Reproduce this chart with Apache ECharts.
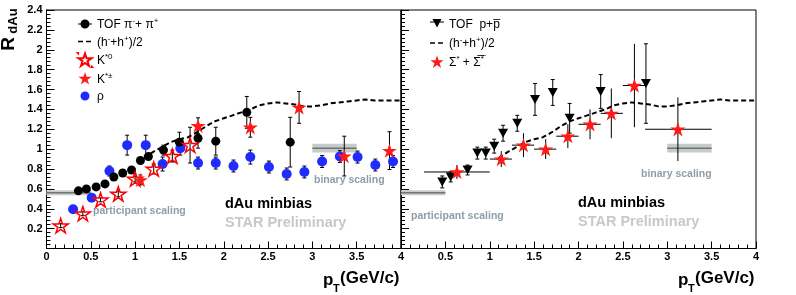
<!DOCTYPE html>
<html>
<head>
<meta charset="utf-8">
<script src="https://cdn.jsdelivr.net/npm/echarts@6/dist/echarts.min.js"></script>
<style>
html,body{margin:0;padding:0;background:#fff;}
#chart{width:796px;height:295px;}
</style>
</head>
<body>
<div id="chart"></div>
<script>
// ---------------- DATA ----------------
const xTicks = [0, 0.5, 1, 1.5, 2, 2.5, 3, 3.5, 4];
const yTicks = [0, 0.2, 0.4, 0.6, 0.8, 1, 1.2, 1.4, 1.6, 1.8, 2, 2.2, 2.4];

// Left panel: TOF pi- + pi+
const pionX   = [0.36, 0.45, 0.56, 0.66, 0.76, 0.86, 0.96, 1.06, 1.15, 1.32, 1.50, 1.71, 1.91, 2.26, 2.75];
const pionY   = [0.58, 0.60, 0.62, 0.65, 0.72, 0.76, 0.79, 0.885, 0.925, 0.99, 1.07, 1.11, 1.08, 1.37, 1.07];
const pionErr = [0.01, 0.01, 0.01, 0.01, 0.02, 0.02, 0.02, 0.03, 0.03, 0.05, 0.10, 0.10, 0.14, 0.16, 0.25];

// Left panel: rho
const rhoX   = [0.30, 0.51, 0.71, 0.91, 1.12, 1.31, 1.51, 1.71, 1.91, 2.11, 2.30, 2.51, 2.71, 2.91, 3.11, 3.31, 3.51, 3.71, 3.91];
const rhoY   = [0.395, 0.51, 0.78, 1.04, 1.04, 0.85, 1.01, 0.86, 0.86, 0.83, 0.92, 0.82, 0.75, 0.77, 0.875, 0.925, 0.92, 0.84, 0.875];
const rhoErr = [0.0, 0.0, 0.05, 0.10, 0.10, 0.07, 0.07, 0.06, 0.06, 0.06, 0.07, 0.06, 0.06, 0.06, 0.06, 0.06, 0.06, 0.06, 0.06];

// Left panel: K*0 (open stars)
const k0X   = [0.16, 0.41, 0.61, 0.81, 1.00, 1.21, 1.42, 1.62];
const k0Y   = [0.23, 0.35, 0.49, 0.55, 0.70, 0.80, 0.93, 1.04];
const k0Err = [0.02, 0.02, 0.02, 0.03, 0.03, 0.05, 0.06, 0.18];

// Left panel: K*+- (filled stars)
const kcX   = [1.06, 1.71, 2.30, 2.85, 3.36, 3.87];
const kcY   = [0.69, 1.235, 1.22, 1.42, 0.93, 0.985];
const kcErr = [0.05, 0.08, 0.10, 0.16, 0.20, 0.19];

// Right panel: TOF p + pbar
const protonX   = [0.465, 0.56, 0.75, 0.86, 0.955, 1.05, 1.15, 1.31, 1.51, 1.71, 1.90, 2.25, 2.76];
const protonY   = [0.67, 0.72, 0.79, 0.96, 0.96, 1.03, 1.16, 1.26, 1.50, 1.57, 1.31, 1.58, 1.66];
const protonErr = [0.06, 0.05, 0.05, 0.06, 0.06, 0.07, 0.08, 0.08, 0.16, 0.13, 0.15, 0.17, 0.40];

// Right panel: Sigma* + anti-Sigma*
const sigmaX   = [0.63, 1.13, 1.38, 1.63, 1.88, 2.13, 2.37, 2.63, 3.12];
const sigmaY   = [0.77, 0.90, 1.04, 1.00, 1.13, 1.25, 1.36, 1.64, 1.20];
const sigmaErr = [0.07, 0.08, 0.12, 0.10, 0.12, 0.15, 0.25, 0.42, 0.32];
const sigmaXLo = [0.26, 1.00, 1.25, 1.50, 1.75, 2.00, 2.25, 2.50, 2.75];
const sigmaXHi = [1.00, 1.25, 1.50, 1.75, 2.00, 2.25, 2.50, 2.75, 3.50];

// (h- + h+)/2 curve
const hX = [1.1, 1.2, 1.3, 1.4, 1.5, 1.6, 1.7, 1.8, 1.9, 2.0, 2.1, 2.2, 2.3, 2.4, 2.5, 2.6, 2.7, 2.8, 2.9, 3.0, 3.1, 3.2, 3.3, 3.4, 3.5, 3.6, 3.7, 3.8, 3.9, 4.0];
const hY = [0.91, 0.97, 1.02, 1.07, 1.10, 1.12, 1.17, 1.23, 1.28, 1.31, 1.34, 1.37, 1.40, 1.44, 1.46, 1.47, 1.46, 1.45, 1.43, 1.43, 1.44, 1.46, 1.47, 1.48, 1.49, 1.50, 1.49, 1.49, 1.49, 1.49];

// scaling bands: [xStart, xEnd, yCenter, halfHeight]
const participantBand = [0, 0.5, 0.56, 0.025];
const binaryBand      = [3, 3.5, 1.01, 0.045];

// ---------------- HELPERS ----------------
const FONT = '"Liberation Sans", Arial, Helvetica, sans-serif';
const STAR = 'path://M100,0 L122.45,69.1 L195.1,69.1 L136.3,111.8 L158.8,180.9 L100,138.2 L41.2,180.9 L63.7,111.8 L4.9,69.1 L77.55,69.1 Z';
const CORNERS = ' M0,0 L0.1,0 L0.1,0.1 Z M28,28 L27.9,28 L27.9,27.9 Z';
const ICON_PION = 'path://M0,13 L28,13 L28,15 L0,15 Z M23,14 A9,9 0 1 1 5,14 A9,9 0 1 1 23,14 Z' + CORNERS;
const ICON_PROTON = 'path://M0,9 L28,9 L28,11 L0,11 Z M5,4 L23,4 L14,21 Z' + CORNERS;
const ICON_DASH = 'path://M0,12.5 L10,12.5 L10,15.5 L0,15.5 Z M16,12.5 L26,12.5 L26,15.5 L16,15.5 Z' + CORNERS;
const ICON_STAR = 'path://M14,1 L17.1,10.5 L27.2,10.5 L19.1,16.4 L22.2,26 L14,20.1 L5.8,26 L8.9,16.4 L0.8,10.5 L10.9,10.5 Z' + CORNERS;
const ICON_CIRCLE = 'path://M23,14 A9,9 0 1 1 5,14 A9,9 0 1 1 23,14 Z' + CORNERS;

function zip(...arrs) { return arrs[0].map((_, i) => arrs.map(a => a[i])); }

function errRender(cap) {
  return function (params, api) {
    const x = api.value(0), y = api.value(1), e = api.value(2);
    const xl = api.value(3), xh = api.value(4);
    const c = api.coord([x, y]);
    const children = [];
    const st = { stroke: '#000', lineWidth: 1 };
    if (e > 0) {
      const t = api.coord([x, y + e]), b = api.coord([x, y - e]);
      children.push({ type: 'line', shape: { x1: c[0], y1: t[1], x2: c[0], y2: b[1] }, style: st });
      if (cap) {
        children.push({ type: 'line', shape: { x1: c[0] - 2, y1: t[1], x2: c[0] + 2, y2: t[1] }, style: st });
        children.push({ type: 'line', shape: { x1: c[0] - 2, y1: b[1], x2: c[0] + 2, y2: b[1] }, style: st });
      }
    }
    if (xh > xl) {
      const l = api.coord([xl, y]), r = api.coord([xh, y]);
      children.push({ type: 'line', shape: { x1: l[0], y1: c[1], x2: r[0], y2: c[1] }, style: st });
    }
    return { type: 'group', children };
  };
}

function bandRender(params, api) {
  const x0 = api.value(0), x1 = api.value(1), yc = api.value(2), h = api.value(3);
  const tl = api.coord([x0, yc + h]), br = api.coord([x1, yc - h]);
  const ml = api.coord([x0, yc]), mr = api.coord([x1, yc]);
  return {
    type: 'group',
    children: [
      { type: 'rect', shape: { x: tl[0], y: tl[1], width: br[0] - tl[0], height: br[1] - tl[1] }, style: { fill: '#c6cbcb' } },
      { type: 'line', shape: { x1: ml[0], y1: ml[1], x2: mr[0], y2: mr[1] }, style: { stroke: '#6f7474', lineWidth: 1.5 } }
    ]
  };
}

function xAxisDef(gridIndex, hideZero) {
  return {
    type: 'value', gridIndex, min: xTicks[0], max: xTicks[xTicks.length - 1], interval: 0.5,
    axisLine: { show: true, lineStyle: { color: '#000', width: 1 } },
    axisTick: { show: true, inside: true, length: 7, lineStyle: { color: '#000' } },
    minorTick: { show: true, splitNumber: 5, length: 4, lineStyle: { color: '#000' } },
    splitLine: { show: false },
    axisLabel: {
      color: '#000', fontSize: 11, fontWeight: 'bold', fontFamily: FONT, margin: 3,
      formatter: v => (hideZero && v === 0) ? '' : String(v)
    }
  };
}
function yAxisDef(gridIndex, showLabels) {
  return {
    type: 'value', gridIndex, min: yTicks[0], max: yTicks[yTicks.length - 1], interval: 0.2,
    axisLine: { show: true, lineStyle: { color: '#000', width: 1 } },
    axisTick: { show: true, inside: true, length: 8, lineStyle: { color: '#000' } },
    minorTick: { show: true, splitNumber: 5, length: 4, lineStyle: { color: '#000' } },
    splitLine: { show: false },
    axisLabel: {
      show: showLabels, color: '#000', fontSize: 11, fontWeight: 'bold', fontFamily: FONT, margin: 4,
      formatter: v => v === 0 ? '' : String(Math.round(v * 10) / 10)
    }
  };
}

const legendNames = {
  pion: '{b|TOF π}{s|-}{b|+ π}{s|+}',
  hadron: '{b|(h}{s|-}{b|+h}{s|+}{b|)/2}',
  k0: '{b|K}{s|*0}',
  kc: '{b|K}{s|*±}',
  rho: '{b|ρ}',
  proton: '{b|TOF  p+p\u0305}',
  sigma: '{b|Σ}{s|*}{b| + Σ\u0305}{s|*\u0305}'
};
const legendText = {
  fontSize: 12, fontFamily: FONT, color: '#000',
  rich: {
    b: { fontSize: 12, fontFamily: FONT, color: '#000', lineHeight: 14, verticalAlign: 'bottom' },
    s: { fontSize: 8, fontFamily: FONT, color: '#000', lineHeight: 8, verticalAlign: 'top' }
  }
};

function label(text, x, y, size, weight, color) {
  return { type: 'text', x, y, silent: true,
    style: { text, fontSize: size, fontWeight: weight, fontFamily: FONT, fill: color, verticalAlign: 'middle', align: 'left' } };
}

const grayText = '#8e9ea6';

const option = {
  animation: false,
  backgroundColor: '#fff',
  grid: [
    { left: 46.5, top: 10, width: 354.5, height: 238.5, show: true, borderColor: '#000', borderWidth: 1, backgroundColor: 'transparent' },
    { left: 401, top: 10, width: 355, height: 238.5, show: true, borderColor: '#000', borderWidth: 1, backgroundColor: 'transparent' }
  ],
  xAxis: [xAxisDef(0, false), xAxisDef(1, true)],
  yAxis: [yAxisDef(0, true), yAxisDef(1, false)],
  legend: [
    { left: 72, top: 12, orient: 'vertical', itemWidth: 14, itemHeight: 14, itemGap: 3.5, selectedMode: false,
      data: [{ name: 'pion', icon: ICON_PION }, { name: 'hadron', icon: ICON_DASH }, { name: 'k0', icon: ICON_STAR },
             { name: 'kc', icon: ICON_STAR }, { name: 'rho', icon: ICON_CIRCLE }],
      formatter: n => legendNames[n], textStyle: legendText },
    { left: 425, top: 12, orient: 'vertical', itemWidth: 14, itemHeight: 14, itemGap: 5, selectedMode: false,
      data: [{ name: 'proton', icon: ICON_PROTON }, { name: 'hadron', icon: ICON_DASH }, { name: 'sigma', icon: ICON_STAR }],
      formatter: n => legendNames[n], textStyle: legendText }
  ],
  graphic: [
    // axis titles
    { type: 'text', x: 9, y: 44, rotation: Math.PI / 2, silent: true,
      style: { text: 'R', fontSize: 19, fontWeight: 'bold', fontFamily: FONT, fill: '#000', align: 'center', verticalAlign: 'middle' } },
    { type: 'text', x: 13, y: 21, rotation: Math.PI / 2, silent: true,
      style: { text: 'dAu', fontSize: 13, fontWeight: 'bold', fontFamily: FONT, fill: '#000', align: 'center', verticalAlign: 'middle' } },
    label('p', 323, 280, 17, 'bold', '#000'),
    label('T', 333, 289, 11, 'bold', '#000'),
    label('(GeV/c)', 340, 278, 17, 'bold', '#000'),
    label('p', 678, 280, 17, 'bold', '#000'),
    label('T', 688, 289, 11, 'bold', '#000'),
    label('(GeV/c)', 695, 278, 17, 'bold', '#000'),
    // annotations
    label('participant scaling', 93, 211, 10.5, 'bold', grayText),
    label('binary scaling', 314, 180, 10.5, 'bold', grayText),
    label('dAu minbias', 225, 204, 14.5, 'bold', '#000'),
    label('STAR Preliminary', 225, 223, 14.5, 'bold', '#c8c8c8'),
    label('participant scaling', 411, 216, 10.5, 'bold', grayText),
    label('binary scaling', 641, 174, 10.5, 'bold', grayText),
    label('dAu minbias', 578, 203, 14.5, 'bold', '#000'),
    label('STAR Preliminary', 578, 222, 14.5, 'bold', '#c8c8c8')
  ],
  series: [
    // bands
    { type: 'custom', name: 'bandsL', xAxisIndex: 0, yAxisIndex: 0, z: 1, silent: true, renderItem: bandRender,
      data: [participantBand, binaryBand] },
    { type: 'custom', name: 'bandsR', xAxisIndex: 1, yAxisIndex: 1, z: 1, silent: true, renderItem: bandRender,
      data: [participantBand, binaryBand] },
    // dashed hadron curves
    { type: 'line', name: 'hadron', xAxisIndex: 0, yAxisIndex: 0, z: 2, symbol: 'none', showSymbol: false,
      lineStyle: { color: '#000', width: 2, type: [5, 3] }, itemStyle: { color: '#000' }, data: zip(hX, hY) },
    { type: 'line', name: 'hadron', xAxisIndex: 1, yAxisIndex: 1, z: 2, symbol: 'none', showSymbol: false,
      lineStyle: { color: '#000', width: 2, type: [5, 3] }, itemStyle: { color: '#000' }, data: zip(hX, hY) },
    // error bars
    { type: 'custom', name: 'pionErr', xAxisIndex: 0, yAxisIndex: 0, z: 3, silent: true, renderItem: errRender(true),
      data: zip(pionX, pionY, pionErr, pionX, pionX) },
    { type: 'custom', name: 'rhoErr', xAxisIndex: 0, yAxisIndex: 0, z: 3, silent: true, renderItem: errRender(true),
      data: zip(rhoX, rhoY, rhoErr, rhoX, rhoX) },
    { type: 'custom', name: 'k0Err', xAxisIndex: 0, yAxisIndex: 0, z: 3, silent: true, renderItem: errRender(true),
      data: zip(k0X, k0Y, k0Err, k0X, k0X) },
    { type: 'custom', name: 'kcErr', xAxisIndex: 0, yAxisIndex: 0, z: 3, silent: true, renderItem: errRender(true),
      data: zip(kcX, kcY, kcErr, kcX, kcX) },
    { type: 'custom', name: 'protonErr', xAxisIndex: 1, yAxisIndex: 1, z: 3, silent: true, renderItem: errRender(true),
      data: zip(protonX, protonY, protonErr, protonX, protonX) },
    { type: 'custom', name: 'sigmaErr', xAxisIndex: 1, yAxisIndex: 1, z: 3, silent: true, renderItem: errRender(false),
      data: zip(sigmaX, sigmaY, sigmaErr, sigmaXLo, sigmaXHi) },
    // markers
    { type: 'scatter', name: 'rho', xAxisIndex: 0, yAxisIndex: 0, z: 4, symbol: 'circle', symbolSize: 10,
      itemStyle: { color: '#1f2bff', opacity: 1 }, data: zip(rhoX, rhoY) },
    { type: 'scatter', name: 'pion', xAxisIndex: 0, yAxisIndex: 0, z: 5, symbol: 'circle', symbolSize: 9,
      itemStyle: { color: '#000', opacity: 1 }, data: zip(pionX, pionY) },
    { type: 'scatter', name: 'k0', xAxisIndex: 0, yAxisIndex: 0, z: 5, symbol: STAR, symbolSize: 15, symbolKeepAspect: true,
      itemStyle: { color: 'rgba(255,255,255,0)', borderColor: '#ff0000', borderWidth: 1.5, opacity: 1 }, data: zip(k0X, k0Y) },
    { type: 'scatter', name: 'kc', xAxisIndex: 0, yAxisIndex: 0, z: 6, symbol: STAR, symbolSize: 15, symbolKeepAspect: true,
      itemStyle: { color: '#ff1a1a', opacity: 1 }, data: zip(kcX, kcY) },
    { type: 'scatter', name: 'proton', xAxisIndex: 1, yAxisIndex: 1, z: 5, symbol: 'triangle', symbolRotate: 180, symbolSize: [10, 9],
      itemStyle: { color: '#000', opacity: 1 }, data: zip(protonX, protonY) },
    { type: 'scatter', name: 'sigma', xAxisIndex: 1, yAxisIndex: 1, z: 6, symbol: STAR, symbolSize: 15, symbolKeepAspect: true,
      itemStyle: { color: '#ff1a1a', opacity: 1 }, data: zip(sigmaX, sigmaY) }
  ]
};

const chart = echarts.init(document.getElementById('chart'), null, { renderer: 'canvas' });
chart.setOption(option);
</script>
</body>
</html>
